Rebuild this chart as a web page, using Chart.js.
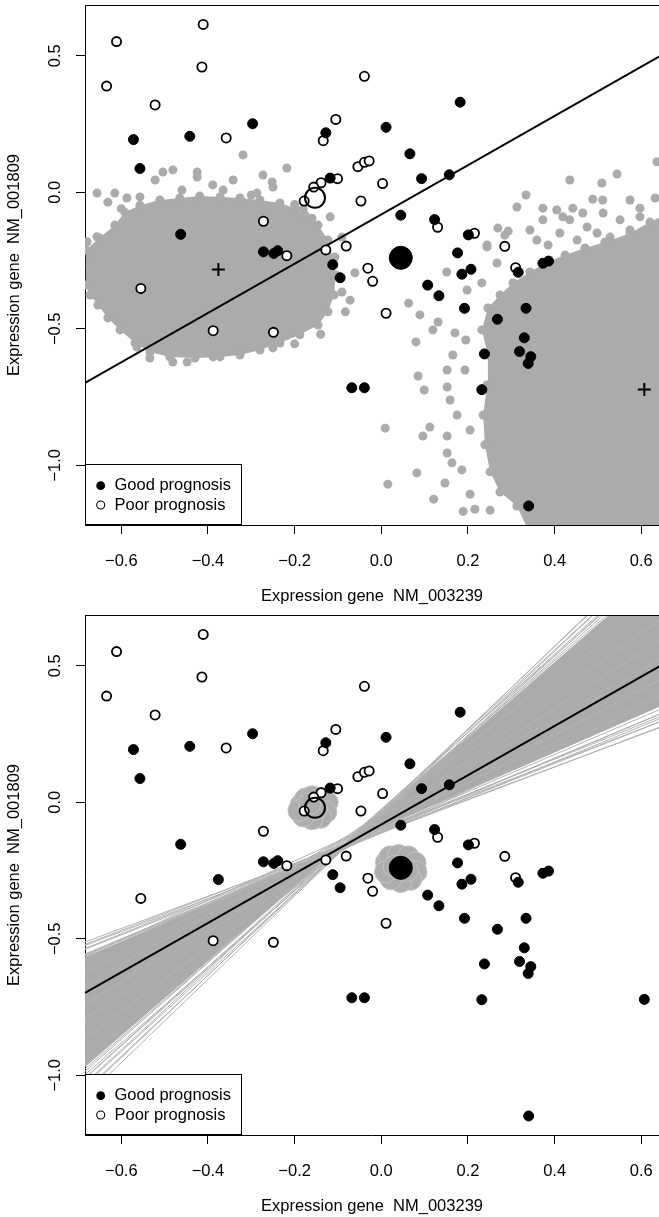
<!DOCTYPE html>
<html>
<head>
<meta charset="utf-8">
<script src="https://cdn.jsdelivr.net/npm/chart.js@4.4.1/dist/chart.umd.min.js"></script>
<style>
  html, body { margin: 0; padding: 0; background: #fff; width: 659px; height: 1217px; overflow: hidden; }
  .panel { position: absolute; left: 0; width: 659px; height: 610px; }
  #p1 { top: 0; }
  #p2 { top: 610px; }
  canvas { display: block; }
</style>
</head>
<body>
<div class="panel" id="p1"><canvas id="c1" width="659" height="610"></canvas></div>
<div class="panel" id="p2"><canvas id="c2" width="659" height="610"></canvas></div>
<script>
// ---------------- data ----------------
const xTicks = [-0.6, -0.4, -0.2, 0.0, 0.2, 0.4, 0.6];
const yTicks = [-1.0, -0.5, 0.0, 0.5];
const xLimits = [-0.6838, 0.6409];
const yLimits = [-1.2187, 0.6861];
const xTitle = 'Expression gene  NM_003239';
const yTitle = 'Expression gene  NM_001809';
const legendLabels = ['Good prognosis', 'Poor prognosis'];

// samples with good prognosis
const goodX = [-0.572, -0.442, -0.297, -0.557, -0.128, -0.118, -0.463, -0.272, -0.248, -0.239,
               -0.112, -0.095, 0.182, 0.011, 0.066, 0.093, 0.157, 0.045, 0.123, 0.201,
               0.176, 0.373, 0.386, 0.316, 0.186, 0.207, 0.107, 0.133, 0.192, 0.268,
               0.334, 0.330, 0.238, 0.319, 0.345, 0.339, 0.232, 0.340, -0.068, -0.039];
const goodY = [0.193, 0.205, 0.251, 0.087, 0.218, 0.052, -0.154, -0.218, -0.224, -0.214,
               -0.265, -0.313, 0.330, 0.238, 0.141, 0.050, 0.064, -0.084, -0.100, -0.156,
               -0.222, -0.260, -0.252, -0.293, -0.300, -0.282, -0.340, -0.379, -0.425, -0.465,
               -0.425, -0.533, -0.592, -0.583, -0.602, -0.627, -0.723, -1.149, -0.716, -0.716];

// samples with poor prognosis
const poorX = [-0.411, -0.611, -0.414, -0.634, -0.522, -0.358, -0.039, -0.105, -0.134, -0.054,
               -0.039, -0.028, -0.101, -0.139, -0.156, -0.178, -0.047, -0.272, -0.218, -0.128,
               -0.081, -0.031, -0.020, -0.555, -0.388, -0.249, 0.003, 0.130, 0.215, 0.285,
               0.310, 0.011];
const poorY = [0.615, 0.552, 0.459, 0.389, 0.320, 0.199, 0.425, 0.267, 0.189, 0.094,
               0.110, 0.115, 0.050, 0.035, 0.019, -0.032, -0.032, -0.106, -0.232, -0.211,
               -0.197, -0.278, -0.326, -0.352, -0.507, -0.513, 0.032, -0.128, -0.150, -0.198,
               -0.276, -0.443];

// two good-prognosis reference samples (marked + in the upper panel)
const refX = [-0.376, 0.607];
const refY = [-0.283, -0.722];

// the two perturbed samples (good, poor)
const focusGood = [0.045, -0.240];
const focusPoor = [-0.153, -0.020];

// classifier boundary
const fitIntercept = -0.081;
const fitSlope = 0.902;

// simulated neighbourhoods of the reference samples: dense outline + outliers
const leftCloudX = [-0.682, -0.650, -0.615, -0.592, -0.557, -0.511, -0.465, -0.419, -0.372, -0.326,
                    -0.280, -0.234, -0.199, -0.176, -0.146, -0.123, -0.112, -0.105, -0.109, -0.123,
                    -0.146, -0.188, -0.234, -0.280, -0.326, -0.372, -0.430, -0.488, -0.534, -0.568,
                    -0.603, -0.631, -0.654, -0.672, -0.682];
const leftCloudY = [-0.211, -0.167, -0.120, -0.073, -0.047, -0.028, -0.021, -0.014, -0.017, -0.021,
                    -0.028, -0.039, -0.058, -0.083, -0.120, -0.175, -0.241, -0.303, -0.376, -0.438,
                    -0.486, -0.522, -0.552, -0.578, -0.596, -0.603, -0.607, -0.603, -0.585, -0.552,
                    -0.504, -0.460, -0.413, -0.376, -0.340];
const rightCloudX = [0.339, 0.313, 0.274, 0.251, 0.239, 0.235, 0.244, 0.246, 0.232, 0.246,
                     0.274, 0.304, 0.343, 0.382, 0.424, 0.470, 0.516, 0.574, 0.620, 0.655,
                     0.735, 0.735];
const rightCloudY = [-1.237, -1.149, -1.098, -1.024, -0.925, -0.816, -0.706, -0.596, -0.504, -0.424,
                     -0.376, -0.332, -0.292, -0.256, -0.230, -0.204, -0.183, -0.150, -0.109, -0.083,
                     -0.083, -1.273];
const strayX = [-0.319, -0.218, -0.504, -0.481, -0.522, -0.425, -0.425, -0.389, -0.342, -0.273,
                -0.252, -0.656, -0.615, -0.631, -0.557, -0.460, -0.365, -0.287, -0.250, -0.679,
                -0.656, -0.672, -0.091, -0.107, -0.091, -0.061, -0.072, -0.083, -0.534, -0.481,
                -0.564, -0.448, -0.388, -0.118, -0.587, -0.200, -0.180, -0.600, -0.300, -0.160,
                -0.140, -0.250, -0.200,
                0.435, 0.509, 0.544, 0.636, 0.334, 0.313, 0.373, 0.405, 0.442, 0.488,
                0.511, 0.574, 0.597, 0.632, 0.269, 0.293, 0.244, 0.285, 0.151, 0.267,
                0.244, 0.232, 0.198, 0.343, 0.359, 0.385, 0.412, 0.435, 0.452, 0.475,
                0.498, 0.528, 0.551, 0.574, 0.597, 0.512, 0.465, 0.419, 0.373,
                0.063, 0.089, 0.131, 0.119, 0.080, 0.170, 0.165, 0.195, 0.152, 0.193,
                0.085, 0.099, 0.152, 0.159, 0.175, 0.009, 0.112, 0.096, 0.152, 0.205,
                0.152, 0.163, 0.186, 0.082, 0.147, 0.015, 0.121, 0.205, 0.216, 0.251, 0.189];
const strayY = [0.137, 0.089, 0.074, 0.082, 0.045, 0.074, 0.056, 0.027, 0.045, 0.063,
                0.038, -0.003, -0.003, -0.036, -0.017, 0.008, 0.008, -0.003, 0.019, -0.181,
                -0.163, -0.225, -0.164, -0.237, -0.365, -0.295, -0.395, -0.438, -0.607, -0.622,
                -0.567, -0.622, -0.603, -0.090, -0.021, -0.045, -0.060, -0.060, -0.010, -0.095,
                -0.520, -0.570, -0.555,
                0.045, 0.034, 0.067, 0.112, -0.010, -0.054, -0.058, -0.065, -0.058, -0.025,
                -0.028, -0.028, -0.058, -0.021, -0.131, -0.142, -0.193, -0.157, -0.292, -0.259,
                -0.200, -0.332, -0.358, -0.138, -0.175, -0.193, -0.149, -0.101, -0.175, -0.127,
                -0.149, -0.164, -0.101, -0.138, -0.090, -0.076, -0.076, -0.090, -0.101,
                -0.406, -0.449, -0.475, -0.504, -0.548, -0.515, -0.596, -0.541, -0.651, -0.651,
                -0.673, -0.724, -0.713, -0.761, -0.816, -0.864, -0.860, -0.893, -0.893, -0.871,
                -0.955, -0.991, -1.017, -1.028, -1.065, -1.069, -1.124, -1.106, -1.161, -1.165, -1.169];

// resampled boundaries: edges of the dense bundle, then individual lines
const bandIntercept = [-0.094, -0.034];
const bandSlope = [0.692, 1.368];
const lineIntercept = [-0.107, -0.112, -0.100, -0.109, -0.098, -0.113, -0.103, -0.108, -0.097,
                       -0.071, -0.107, -0.069, -0.097, -0.053, -0.092, -0.054, -0.077, -0.037, -0.073, -0.036, -0.051,
                       -0.033, -0.046, -0.025, -0.041, -0.030, -0.044, -0.028, -0.040, -0.032, -0.038];
const lineSlope = [0.592, 0.603, 0.615, 0.628, 0.640, 0.652, 0.662, 0.672, 0.680,
                   0.72, 0.76, 0.80, 0.85, 0.90, 0.95, 1.00, 1.05, 1.10, 1.15, 1.22, 1.30,
                   1.380, 1.392, 1.405, 1.418, 1.432, 1.448, 1.465, 1.484, 1.505, 1.526];

// perturbed copies of the two focus samples
const jitterPoorX = [-0.185, -0.175, -0.160, -0.140, -0.125, -0.128, -0.140, -0.160, -0.180, -0.190, -0.150, -0.165];
const jitterPoorY = [-0.010, 0.012, 0.020, 0.015, 0.000, -0.035, -0.055, -0.060, -0.050, -0.030, -0.025, -0.005];
const jitterGoodX = [0.012, 0.020, 0.040, 0.062, 0.078, 0.080, 0.068, 0.045, 0.022, 0.010, 0.045, 0.030, 0.060];
const jitterGoodY = [-0.220, -0.200, -0.195, -0.200, -0.222, -0.255, -0.282, -0.290, -0.280, -0.255, -0.240, -0.235, -0.250];

// ---------------- drawing ----------------
const FONT = "'Liberation Sans', Arial, Helvetica, sans-serif";
const FS = 16.5;
const GREY = '#ABABAB';
Chart.defaults.font.family = FONT;
Chart.defaults.font.size = FS;
Chart.defaults.color = '#000';

const [X_MIN, X_MAX] = xLimits;
const [Y_MIN, Y_MAX] = yLimits;
const pts = (xs, ys) => xs.map((x, i) => ({ x, y: ys[i] }));
const abline = (a, b) => [{ x: X_MIN, y: a + b * X_MIN }, { x: X_MAX, y: a + b * X_MAX }];
const fmt = v => (v < 0 ? '\u2212' : '') + Math.abs(v).toFixed(1);

function dots(data, order, o) {
  return Object.assign({ type: 'scatter', data, order, clip: 0, showLine: false,
    pointRadius: 4.5, pointBorderWidth: 0, pointBackgroundColor: GREY, pointBorderColor: GREY,
    pointHoverRadius: 0 }, o);
}
function path(data, order, o) {
  return Object.assign({ type: 'scatter', data, order, clip: 0, showLine: true, pointRadius: 0,
    pointHoverRadius: 0, borderColor: '#000', borderWidth: 1, fill: false, tension: 0 }, o);
}

const goodDots = o => dots(pts(goodX, goodY), 2, Object.assign({ pointRadius: 5, pointBorderWidth: 1,
  pointBackgroundColor: '#000', pointBorderColor: '#000' }, o));
const poorDots = o => dots(pts(poorX, poorY), 2, Object.assign({ pointRadius: 4.6, pointBorderWidth: 1.8,
  pointBackgroundColor: '#fff', pointBorderColor: '#000' }, o));
const bigGood = order => dots([{ x: focusGood[0], y: focusGood[1] }], order, { pointRadius: 11.5,
  pointBorderWidth: 1, pointBackgroundColor: '#000', pointBorderColor: '#000' });
const bigPoor = order => dots([{ x: focusPoor[0], y: focusPoor[1] }], order, { pointRadius: 10,
  pointBorderWidth: 2, pointBackgroundColor: 'rgba(0,0,0,0)', pointBorderColor: '#000' });
const fitLine = order => path(abline(fitIntercept, fitSlope), order, { borderWidth: 2 });

function scales() {
  return {
    x: {
      type: 'linear', position: 'bottom', min: X_MIN, max: X_MAX,
      afterBuildTicks: s => { s.ticks = xTicks.map(v => ({ value: v })); },
      afterFit: s => { s.height = 85; s.paddingLeft = 0; s.paddingRight = 0; },
      ticks: { callback: fmt, padding: 18, maxRotation: 0, autoSkip: false, color: '#000', font: { size: FS } },
      grid: { display: true, drawOnChartArea: false, drawTicks: true, tickLength: 9, color: '#000', lineWidth: 1 },
      border: { display: true, color: '#000', width: 1 },
      title: { display: true, text: xTitle, color: '#000', font: { size: FS }, padding: { top: 0, bottom: 4 } }
    },
    y: {
      type: 'linear', position: 'left', min: Y_MIN, max: Y_MAX,
      afterBuildTicks: s => { s.ticks = yTicks.map(v => ({ value: v })); },
      afterFit: s => { s.width = 85; s.paddingTop = 0; s.paddingBottom = 0; },
      ticks: { callback: fmt, padding: 4.7, minRotation: 90, maxRotation: 90, crossAlign: 'center',
               autoSkip: false, color: '#000', font: { size: FS } },
      grid: { display: true, drawOnChartArea: false, drawTicks: true, tickLength: 9, color: '#000', lineWidth: 1 },
      border: { display: true, color: '#000', width: 1 },
      title: { display: true, text: yTitle, color: '#000', font: { size: FS }, padding: { top: 5, bottom: 0 } }
    }
  };
}

// frame top edge and the class key in the lower-left corner
const frameAndKey = {
  id: 'frameAndKey',
  afterDraw(chart) {
    const { ctx, chartArea: a } = chart;
    ctx.save();
    ctx.strokeStyle = '#000';
    ctx.lineWidth = 1;
    ctx.beginPath();
    ctx.moveTo(a.left, a.top + 0.5);
    ctx.lineTo(a.right, a.top + 0.5);
    ctx.stroke();

    const bx = a.left + 0.5, by = a.bottom - 60.5, bw = 156, bh = 60;
    ctx.fillStyle = '#fff';
    ctx.fillRect(bx, by, bw, bh);
    ctx.strokeRect(bx, by, bw, bh);

    const rows = [a.bottom - 39.3, a.bottom - 20];
    const sx = a.left + 15.7;
    ctx.beginPath();
    ctx.arc(sx, rows[0], 4.4, 0, Math.PI * 2);
    ctx.fillStyle = '#000';
    ctx.fill();
    ctx.beginPath();
    ctx.arc(sx, rows[1], 4.0, 0, Math.PI * 2);
    ctx.lineWidth = 1.1;
    ctx.stroke();

    ctx.font = FS + 'px ' + FONT;
    ctx.textAlign = 'left';
    ctx.textBaseline = 'middle';
    ctx.fillStyle = '#000';
    legendLabels.forEach((t, i) => ctx.fillText(t, a.left + 29.5, rows[i]));
    ctx.restore();
  }
};

function makeChart(id, datasets) {
  return new Chart(document.getElementById(id), {
    type: 'scatter',
    data: { datasets },
    options: {
      responsive: false,
      animation: false,
      events: [],
      layout: { autoPadding: false, padding: { top: 5, left: 0, right: 0, bottom: 0 } },
      plugins: { legend: { display: false }, tooltip: { enabled: false } },
      scales: scales()
    },
    plugins: [frameAndKey]
  });
}

// upper panel: simulated neighbourhoods around the two reference samples
makeChart('c1', [
  dots(pts(refX, refY), 0, { pointStyle: 'cross', pointRadius: 6.5, pointBorderWidth: 2, pointBorderColor: '#000' }),
  bigGood(1),
  bigPoor(1),
  goodDots(),
  poorDots(),
  fitLine(3),
  dots(pts(strayX, strayY), 4),
  path(pts(leftCloudX, leftCloudY), 5, { fill: 'shape', backgroundColor: GREY, borderColor: 'rgba(0,0,0,0)',
    borderWidth: 0, pointRadius: 4.5, pointBackgroundColor: GREY, pointBorderWidth: 0 }),
  path(pts(rightCloudX, rightCloudY), 5, { fill: 'shape', backgroundColor: GREY, borderColor: 'rgba(0,0,0,0)',
    borderWidth: 0, pointRadius: 4.5, pointBackgroundColor: GREY, pointBorderWidth: 0 })
]);

// lower panel: resampled boundaries and perturbed focus samples
const band = [
  ...abline(bandIntercept[0], bandSlope[0]),
  ...abline(bandIntercept[1], bandSlope[1]).reverse()
];
makeChart('c2', [
  bigGood(0),
  bigPoor(0),
  goodDots({ order: 1 }),
  poorDots({ order: 1 }),
  dots(pts(refX, refY), 1, { pointRadius: 5, pointBorderWidth: 1, pointBackgroundColor: '#000', pointBorderColor: '#000' }),
  fitLine(2),
  dots(pts(jitterPoorX, jitterPoorY), 3, { pointRadius: 11, pointBorderWidth: 1,
    pointBackgroundColor: '#ADADAD', pointBorderColor: '#C2C2C2' }),
  dots(pts(jitterGoodX, jitterGoodY), 3, { pointRadius: 11, pointBorderWidth: 1,
    pointBackgroundColor: '#ADADAD', pointBorderColor: '#C2C2C2' }),
  ...lineIntercept.map((a, i) => path(abline(a, lineSlope[i]), 4, { borderColor: '#B2B2B2', borderWidth: 1 })),
  path(band, 5, { fill: 'shape', backgroundColor: GREY, borderColor: 'rgba(0,0,0,0)', borderWidth: 0 })
]);
</script>
</body>
</html>
